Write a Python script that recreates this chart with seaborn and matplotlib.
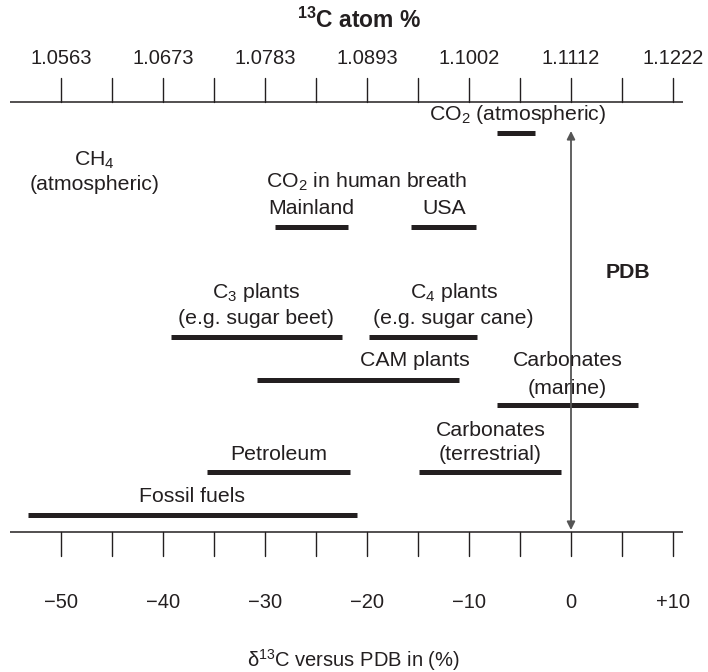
import numpy as np
import pandas as pd
import matplotlib
matplotlib.use("Agg")
import matplotlib.pyplot as plt
import seaborn as sns

# delta-13C ranges (per mil vs PDB) for each carbon source
sources = ["CO2 (atmospheric)", "Mainland", "USA", "C3 plants", "C4 plants",
           "CAM plants", "Carbonates (marine)", "Petroleum",
           "Carbonates (terrestrial)", "Fossil fuels"]
delta_low = [-7.3, -29.0, -15.7, -39.2, -19.8, -30.8, -7.3, -35.7, -14.9, -53.2]
delta_high = [-3.5, -21.9, -9.3, -22.5, -9.2, -11.0, 6.6, -21.7, -1.0, -21.0]

# bottom scale ticks and the matching 13C atom % values on the top scale
delta_ticks = [-50, -40, -30, -20, -10, 0, 10]
delta_ticklabels = ["\u221250", "\u221240", "\u221230", "\u221220", "\u221210", "0", "+10"]
atom_pct_labels = ["1.0563", "1.0673", "1.0783", "1.0893", "1.1002", "1.1112", "1.1222"]

sns.set_style("white")
plt.rcParams["font.family"] = ["Liberation Sans", "DejaVu Sans"]
plt.rcParams["mathtext.fontset"] = "custom"
plt.rcParams["mathtext.rm"] = "Liberation Sans"
plt.rcParams["mathtext.it"] = "Liberation Sans:italic"
plt.rcParams["mathtext.bf"] = "Liberation Sans:bold"

W, H = 708, 672
fig = plt.figure(figsize=(W / 100, H / 100), dpi=100)
ax = fig.add_axes([0, 0, 1, 1])
px_per_unit = 10.2
x_zero_px = 571

ink = "#231f20"
fs = 15.3
fs_tick = 14.5

# vertical row of each range bar (figure pixels from top)
row_y = [133, 227, 227, 337, 337, 380, 405, 472, 472, 515]

seg = pd.DataFrame({
    "source": np.repeat(sources, 2),
    "delta": np.ravel(np.column_stack([delta_low, delta_high])),
    "row": np.repeat(row_y, 2),
})
sns.lineplot(data=seg, x="delta", y="row", units="source", estimator=None,
             sort=False, color=ink, linewidth=3.6, solid_capstyle="butt",
             legend=False, ax=ax)
ax.set_xlabel("")
ax.set_ylabel("")
ax.set_xlim(-x_zero_px / px_per_unit, (W - x_zero_px) / px_per_unit)
ax.set_ylim(H, 0)
ax.axis("off")

# scales
x_left, x_right = -55.0, 11.0
top_y, bot_y, tick_len = 102, 532, 24
for yy in (top_y, bot_y):
    ax.plot([x_left, x_right], [yy, yy], color=ink, lw=1.1, solid_capstyle="butt")
minor = np.arange(-50, 11, 5)
for t in minor:
    ax.plot([t, t], [top_y - tick_len, top_y], color=ink, lw=1.0)
    ax.plot([t, t], [bot_y, bot_y + tick_len], color=ink, lw=1.0)
for t, lab in zip(delta_ticks, atom_pct_labels):
    ax.text(t, 58, lab, ha="center", va="center", fontsize=fs_tick, color=ink)
for t, lab in zip(delta_ticks, delta_ticklabels):
    ax.text(t, 603, lab, ha="center", va="center", fontsize=fs_tick, color=ink)

ax.text(-20.8, 20, r"$^{\mathregular{13}}$C atom %", ha="center", va="center",
        fontsize=16.5, fontweight="bold", color=ink)
ax.text(-21.3, 660, r"$\mathregular{\delta}^{\mathregular{13}}$C versus PDB in (%)",
        ha="center", va="center", fontsize=fs_tick, color=ink)

# PDB reference arrow
ax.annotate("", xy=(0, 131), xytext=(0, 530),
            arrowprops=dict(arrowstyle="<|-|>", color="#555555", lw=1.3,
                            mutation_scale=12, shrinkA=0, shrinkB=0))
ax.text(5.6, 272, "PDB", ha="center", va="center", fontsize=fs,
        fontweight="bold", color=ink)

# labels
def lab(x, y, s, **kw):
    ax.text(x, y, s, ha="center", va="center", fontsize=fs, color=ink, **kw)

lab(-5.2, 115, r"CO$_{\mathregular{2}}$ (atmospheric)")
lab(-46.7, 160, r"CH$_{\mathregular{4}}$")
lab(-46.7, 184, "(atmospheric)")
lab(-20.0, 182, r"CO$_{\mathregular{2}}$ in human breath")
ax.text(-29.7, 208, "Mainland", ha="left", va="center", fontsize=fs, color=ink)
lab(-12.4, 208, "USA")
lab(-30.85, 293, r"C$_{\mathregular{3}}$ plants")
lab(-30.85, 318, "(e.g. sugar beet)")
lab(-11.5, 293, r"C$_{\mathregular{4}}$ plants")
lab(-11.5, 318, "(e.g. sugar cane)")
lab(-15.3, 361, "CAM plants")
lab(-0.35, 361, "Carbonates")
lab(-0.35, 388, "(marine)")
lab(-28.7, 455, "Petroleum")
lab(-7.9, 430, "Carbonates")
lab(-7.9, 455, "(terrestrial)")
lab(-37.2, 497, "Fossil fuels")

fig.savefig("out.png", dpi=100)
